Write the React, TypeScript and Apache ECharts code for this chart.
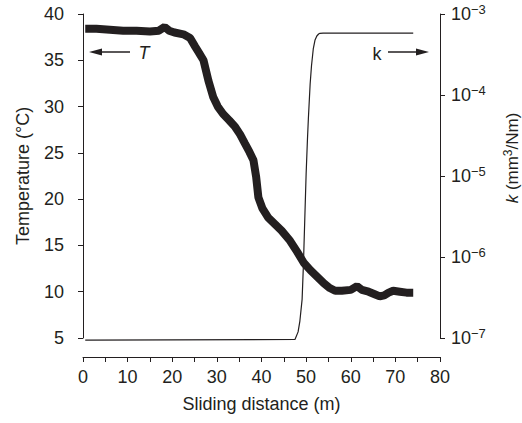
import React, { useEffect, useRef } from "react";
import * as echarts from "echarts";

// Temperature curve (sliding distance m, °C)
const tDistance = [0.5, 3, 6, 9, 12, 15, 17, 18.3, 19.3, 20.5, 22.5, 24, 25.1, 26, 27, 28.1, 29.2, 30.2, 31.4, 32.8, 34.1, 35.2, 36.3, 37.3, 38.2, 38.8, 39.3, 40.2, 41.5, 43, 44.5, 46.4, 48, 49.5, 51, 52.5, 54, 55.3, 56.5, 58, 60, 61.4, 62.5, 64, 65.5, 66.5, 67.5, 68.5, 69.5, 71, 72.5, 74];
const tValues = [38.4, 38.4, 38.3, 38.2, 38.2, 38.1, 38.2, 38.6, 38.2, 38.0, 37.8, 37.4, 36.5, 35.8, 35.0, 32.8, 31.0, 30.0, 29.2, 28.5, 27.8, 27.0, 26.0, 25.1, 24.2, 22.4, 20.2, 19.0, 18.0, 17.3, 16.6, 15.5, 14.3, 13.1, 12.3, 11.6, 10.9, 10.4, 10.1, 10.1, 10.2, 10.6, 10.2, 10.0, 9.7, 9.5, 9.6, 9.9, 10.1, 10.0, 9.9, 9.9];

// Wear coefficient curve (sliding distance m, mm^3/Nm)
const kDistance = [0.5, 47.5, 48.2, 48.6, 49.1, 49.4, 49.7, 50.0, 50.3, 50.5, 50.9, 51.2, 51.6, 52.0, 52.4, 52.8, 53.1, 53.8, 74];
const kValues = [9.4e-8, 9.6e-8, 1.19e-7, 1.62e-7, 3.0e-7, 8.2e-7, 2.95e-6, 1.06e-5, 2.86e-5, 5.06e-5, 1.37e-4, 2.28e-4, 3.7e-4, 4.78e-4, 5.35e-4, 5.66e-4, 5.78e-4, 5.82e-4, 5.82e-4];

const xTicks = { min: 0, max: 80, interval: 10 };
const tTicks = { min: 5, max: 40, interval: 5 };
const kTicks = { min: 1e-7, max: 1e-3 };

const INK = "#231f20";
const FONT = "Liberation Sans, Arial, Helvetica, sans-serif";
const FS = 18;

export default function App() {
  const ref = useRef<HTMLDivElement>(null);
  useEffect(() => {
    if (!ref.current) return;
    const chart = echarts.init(ref.current, undefined, { renderer: "svg" });
    const tData = tDistance.map((d, i) => [d, tValues[i]]);
    const kData = kDistance.map((d, i) => [d, kValues[i]]);
    chart.setOption({
      animation: false,
      backgroundColor: "#ffffff",
      textStyle: { fontFamily: FONT, color: INK },
      grid: { left: 83, right: 82, top: 14, bottom: 85 },
      xAxis: {
        type: "value",
        min: xTicks.min,
        max: xTicks.max,
        interval: xTicks.interval,
        offset: 19,
        name: "Sliding distance (m)",
        nameLocation: "middle",
        nameGap: 38,
        nameTextStyle: { fontSize: FS, color: INK, fontFamily: FONT },
        axisLine: { show: true, lineStyle: { color: INK, width: 1 } },
        axisTick: { show: true, length: 5, lineStyle: { color: INK } },
        minorTick: { show: true, splitNumber: 2, length: 5, lineStyle: { color: INK } },
        axisLabel: { fontSize: FS, color: INK, margin: 11, fontFamily: FONT },
        splitLine: { show: false },
      },
      yAxis: [
        {
          type: "value",
          position: "left",
          min: tTicks.min,
          max: tTicks.max,
          interval: tTicks.interval,
          offset: 5,
          name: "Temperature (°C)",
          nameLocation: "middle",
          nameGap: 46,
          nameTextStyle: { fontSize: FS, color: INK, fontFamily: FONT },
          axisLine: { show: true, lineStyle: { color: INK, width: 1 } },
          axisTick: { show: true, length: 5, lineStyle: { color: INK } },
          axisLabel: { fontSize: FS, color: INK, margin: 14, fontFamily: FONT },
          splitLine: { show: false },
        },
        {
          type: "log",
          logBase: 10,
          position: "right",
          min: kTicks.min,
          max: kTicks.max,
          splitNumber: 4,
          axisLine: { show: true, lineStyle: { color: INK, width: 1 } },
          axisTick: { show: true, length: 5, lineStyle: { color: INK } },
          minorTick: { show: false },
          axisLabel: {
            margin: 11,
            color: INK,
            formatter: (v: number) => {
              const e = Math.round(Math.log10(v));
              return `{b|10}{s|−${-e}}`;
            },
            rich: {
              b: { fontSize: FS, color: INK, fontFamily: FONT },
              s: { fontSize: 13, color: INK, fontFamily: FONT, padding: [0, 0, 10, 0] },
            },
          },
          splitLine: { show: false },
        },
      ],
      series: [
        {
          type: "line",
          yAxisIndex: 0,
          data: tData,
          showSymbol: false,
          symbol: "none",
          lineStyle: { color: INK, width: 8 },
          itemStyle: { color: INK },
          z: 3,
        },
        {
          type: "line",
          yAxisIndex: 1,
          data: kData,
          showSymbol: false,
          symbol: "none",
          clip: false,
          lineStyle: { color: INK, width: 1.2 },
          itemStyle: { color: INK },
          z: 2,
        },
      ],
      graphic: [
        { type: "line", shape: { x1: 101, y1: 52, x2: 130, y2: 52 }, style: { stroke: INK, lineWidth: 1.5 } },
        { type: "polygon", shape: { points: [[89, 52], [102, 48.5], [102, 55.5]] }, style: { fill: INK } },
        {
          type: "text",
          x: 144,
          y: 53,
          style: { text: "T", fontSize: FS, fontStyle: "italic", fontFamily: FONT, fill: INK, align: "center", verticalAlign: "middle" },
        },
        {
          type: "text",
          x: 377,
          y: 54,
          style: { text: "k", fontSize: FS, fontFamily: FONT, fill: INK, align: "center", verticalAlign: "middle" },
        },
        { type: "line", shape: { x1: 388, y1: 52, x2: 417, y2: 52 }, style: { stroke: INK, lineWidth: 1.5 } },
        { type: "polygon", shape: { points: [[429, 52], [416, 48.5], [416, 55.5]] }, style: { fill: INK } },
        {
          type: "text",
          x: 512,
          y: 158,
          rotation: Math.PI / 2,
          style: {
            text: "{i|k} (mm{s|3}/Nm)",
            fontSize: 17,
            fontFamily: FONT,
            fill: INK,
            align: "center",
            verticalAlign: "middle",
            rich: {
              i: { fontSize: 17, fontStyle: "italic", fontFamily: FONT, fill: INK },
              s: { fontSize: 12, fontFamily: FONT, fill: INK, padding: [0, 0, 8, 0] },
            },
          },
        },
      ],
    });
    return () => chart.dispose();
  }, []);
  return <div ref={ref} style={{ position: "fixed", left: 0, top: 0, width: 522, height: 423 }} />;
}
